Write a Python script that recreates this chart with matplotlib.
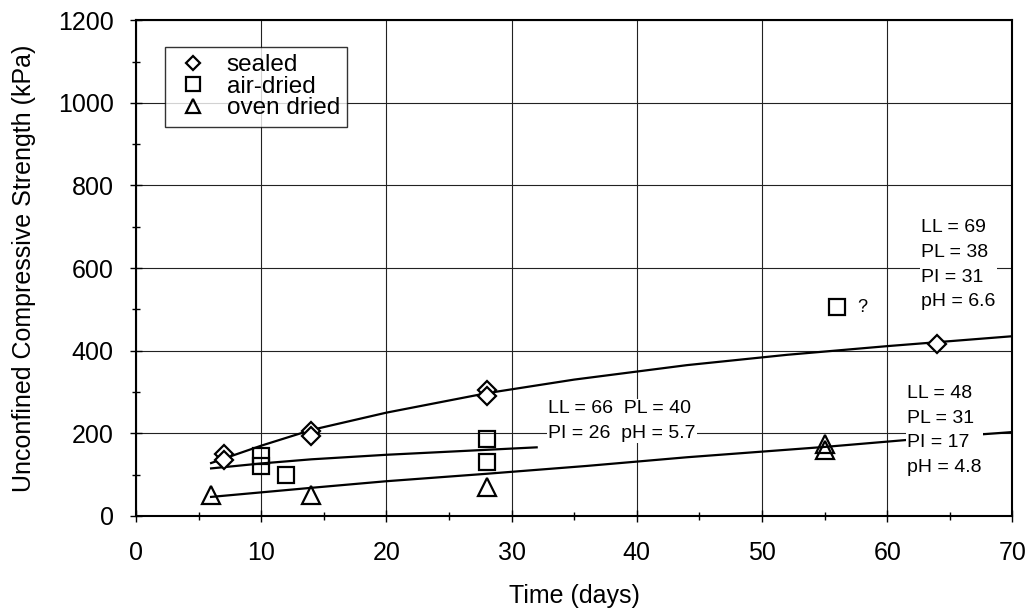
import matplotlib
matplotlib.use("Agg")
import matplotlib.pyplot as plt
from matplotlib.ticker import MultipleLocator

plt.rcParams['font.family'] = ['Liberation Sans', 'DejaVu Sans']

# measured points
sealed_t = [7, 7, 14, 14, 28, 28, 64]
sealed_q = [150, 135, 205, 193, 305, 290, 415]
air_t = [10, 10, 12, 28, 28, 56]
air_q = [145, 120, 100, 185, 130, 505]
oven_t = [6, 14, 28, 55, 55]
oven_q = [50, 50, 70, 175, 160]

# trend lines
sealed_fit_t = [6, 10, 14, 20, 28, 35, 44, 52, 60, 70]
sealed_fit_q = [128, 170, 208, 250, 297, 330, 365, 390, 411, 435]
air_fit_t = [6, 10, 14, 20, 28, 32]
air_fit_q = [115, 127, 137, 148, 160, 166]
oven_fit_t = [6, 14, 20, 28, 36, 44, 55, 62, 70]
oven_fit_q = [46, 68, 84, 102, 121, 142, 167, 185, 203]

soil_notes = [
    (62.7, 608, 'LL = 69\nPL = 38\nPI = 31\npH = 6.6'),
    (32.9, 230, 'LL = 66  PL = 40\nPI = 26  pH = 5.7'),
    (61.6, 207, 'LL = 48\nPL = 31\nPI = 17\npH = 4.8'),
]


def main():
    fig = plt.figure(figsize=(10.30, 6.12), dpi=100)
    ax = fig.add_axes([0.132, 0.157, 0.851, 0.81])

    ax.set_xlim(0, 70)
    ax.set_ylim(0, 1200)
    ax.xaxis.set_major_locator(MultipleLocator(10))
    ax.xaxis.set_minor_locator(MultipleLocator(5))
    ax.yaxis.set_major_locator(MultipleLocator(200))
    ax.yaxis.set_minor_locator(MultipleLocator(100))
    ax.grid(True, which='major', color='#222222', lw=0.8)
    ax.tick_params(which='both', direction='inout', labelsize=18, width=1)
    ax.tick_params(which='major', length=8)
    ax.tick_params(which='minor', length=6)
    ax.tick_params(axis='x', which='both', pad=14)
    ax.tick_params(axis='y', which='both', pad=12)
    for sp in ax.spines.values():
        sp.set_linewidth(1.5)

    ax.plot(sealed_fit_t, sealed_fit_q, color='black', lw=1.6, zorder=3)
    ax.plot(air_fit_t, air_fit_q, color='black', lw=1.6, zorder=3)
    ax.plot(oven_fit_t, oven_fit_q, color='black', lw=1.6, zorder=3)

    ax.plot(sealed_t, sealed_q, 'D', ms=9, mfc='white', mec='black', mew=1.6,
            ls='none', label='sealed', zorder=4)
    ax.plot(air_t, air_q, 's', ms=12, mfc='none', mec='black', mew=1.6,
            ls='none', label='air-dried', zorder=4)
    ax.plot(oven_t, oven_q, '^', ms=13, mfc='none', mec='black', mew=1.6,
            ls='none', label='oven dried', zorder=4)

    ax.text(57.6, 505, '?', fontsize=13, va='center', ha='left')
    for x, y, note in soil_notes:
        ax.text(x, y, note, fontsize=14, va='center', ha='left', linespacing=1.6,
                bbox=dict(facecolor='white', edgecolor='none', pad=1), zorder=5)

    leg = ax.legend(loc='upper left', bbox_to_anchor=(0.033, 0.946), fontsize=17.5,
                    frameon=True, fancybox=False, handletextpad=0.55,
                    borderpad=0.3, labelspacing=-0.02, handlelength=1.7,
                    markerscale=0.8, borderaxespad=0)
    leg.get_frame().set_edgecolor('black')
    leg.get_frame().set_linewidth(1.0)

    ax.set_xlabel('Time (days)', fontsize=18, labelpad=14)
    ax.set_ylabel('Unconfined Compressive Strength (kPa)', fontsize=18, labelpad=16)

    fig.savefig('out.png', dpi=100)


if __name__ == '__main__':
    main()
